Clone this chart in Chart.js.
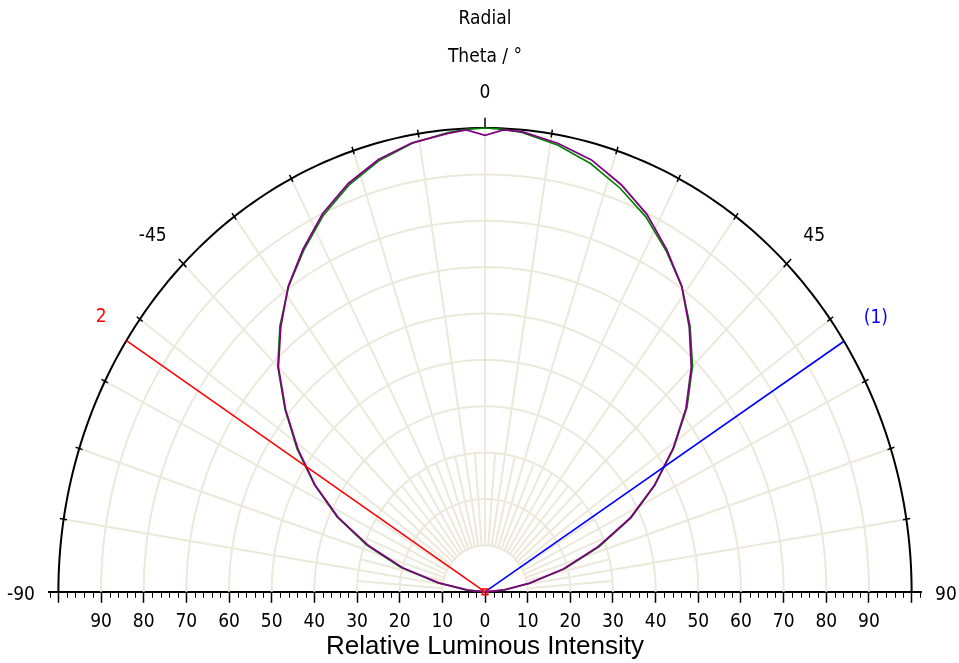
<!DOCTYPE html>
<html>
<head>
<meta charset="utf-8">
<script src="https://cdn.jsdelivr.net/npm/chart.js@4.4.0/dist/chart.umd.min.js"></script>
<style>
  html, body { margin: 0; padding: 0; background: #fff; }
  #wrap { width: 959px; height: 663px; }
</style>
</head>
<body>
<div id="wrap"><canvas id="c"></canvas></div>
<script>
// polar intensity curves, angle in degrees (0 = up), intensity in %
const angles = [-90, -85, -80, -75, -70, -65, -60, -55, -50, -45, -40, -35, -30, -25, -20, -15, -10, -5, -2.5,
  0, 2.5, 5, 10, 15, 20, 25, 30, 35, 40, 45, 50, 55, 60, 65, 70, 75, 80, 85, 90];
const greenIntensity = [0, 4.2, 11.3, 20.5, 29.5, 38.3, 46.2, 53.8, 61.2, 68.7, 74.8, 80.3, 85.0, 89.6, 93.3, 96.2, 98.2, 99.4, 99.8,
  100, 99.8, 99.4, 97.8, 95.6, 92.6, 89.2, 84.9, 80.4, 74.8, 68.8, 61.8, 54.0, 46.0, 37.8, 28.5, 19.5, 10.8, 4.6, 0];
const purpleIntensity = [0, 4.0, 11.0, 20.0, 29.0, 38.0, 46.0, 53.5, 61.0, 68.5, 74.5, 80.4, 85.3, 90.0, 93.7, 96.5, 98.3, 99.2, 99.7,
  98.4, 99.7, 99.6, 98.2, 96.4, 93.4, 89.8, 85.2, 80.4, 74.5, 68.4, 61.5, 53.8, 45.8, 37.5, 28.0, 19.0, 10.5, 4.5, 0];

// half-intensity angle markers
const halfAngles = [-57.2, 57.3];
const halfLabels = ['2', '(1)'];
const halfColors = ['#ff0000', '#0000ff'];

// axes
const radialTicks = [-100, -90, -80, -70, -60, -50, -40, -30, -20, -10, 0, 10, 20, 30, 40, 50, 60, 70, 80, 90, 100];
const ringValues = [10, 20, 30, 40, 50, 60, 70, 80, 90];
const thetaTicks = [-90, -81, -72, -63, -54, -45, -36, -27, -18, -9, 0, 9, 18, 27, 36, 45, 54, 63, 72, 81, 90];
const thetaLabels = [-90, -45, 0, 45, 90];

const rad = d => d * Math.PI / 180;
const toXY = (r, deg) => ({ x: r * Math.sin(rad(deg)), y: r * Math.cos(rad(deg)) });

const FONT = "'DejaVu Sans Condensed', 'DejaVu Sans', sans-serif";
Chart.defaults.font.family = FONT;
Chart.defaults.color = '#000';

const polarGrid = {
  id: 'polarGrid',
  beforeDatasetsDraw(chart) {
    const { ctx, scales: { x: xs, y: ys } } = chart;
    const px = (r, deg) => {
      const p = toXY(r, deg);
      return [xs.getPixelForValue(p.x), ys.getPixelForValue(p.y)];
    };
    const arc = (r) => {
      ctx.beginPath();
      for (let a = -90; a <= 90; a += 1) {
        const [X, Y] = px(r, a);
        if (a === -90) ctx.moveTo(X, Y); else ctx.lineTo(X, Y);
      }
      ctx.stroke();
    };
    const seg = (r0, r1, deg) => {
      const [x0, y0] = px(r0, deg), [x1, y1] = px(r1, deg);
      ctx.beginPath(); ctx.moveTo(x0, y0); ctx.lineTo(x1, y1); ctx.stroke();
    };
    ctx.save();
    // rings + spokes
    ctx.strokeStyle = '#ece8da';
    ctx.lineWidth = 2;
    ringValues.forEach(arc);
    thetaTicks.forEach(a => { if (Math.abs(a) < 90) seg(10, 100, a); });
    for (let a = -85.5; a < 90; a += 9) seg(10, 30, a);

    // outer arc + ticks
    ctx.strokeStyle = '#000';
    ctx.lineWidth = 2;
    arc(100);
    ctx.lineWidth = 1.5;
    thetaTicks.forEach(a => {
      if (Math.abs(a) === 90) return;
      if (a === 0) seg(100, 102.2, a);
      else if (Math.abs(a) === 45) seg(99, 101.5, a);
      else seg(99.2, 100.9, a);
    });

    // minor ticks on radial axis
    ctx.lineWidth = 1;
    const y0 = ys.getPixelForValue(0);
    for (let v = -102; v <= 102; v += 2) {
      if (v % 10 === 0) continue;
      const X = Math.round(xs.getPixelForValue(v)) + 0.5;
      ctx.beginPath(); ctx.moveTo(X, y0); ctx.lineTo(X, y0 + 6); ctx.stroke();
    }

    // angle labels
    ctx.font = '19px ' + FONT;
    const label = (txt, deg, color) => {
      const [X, Y] = px(105.5, deg);
      ctx.fillStyle = color;
      ctx.textAlign = deg > 0 ? 'left' : deg < 0 ? 'right' : 'center';
      const side = Math.abs(deg) >= 90;
      ctx.textBaseline = side ? 'middle' : 'bottom';
      ctx.fillText(txt, X, side ? Y + 3 : Y);
    };
    thetaLabels.forEach(a => label(String(a), a, '#000'));
    halfAngles.forEach((a, i) => label(halfLabels[i], a, halfColors[i]));

    // headings
    ctx.fillStyle = '#000';
    ctx.textAlign = 'center';
    ctx.textBaseline = 'middle';
    const cx = xs.getPixelForValue(0);
    ctx.fillText('Radial', cx, 19);
    ctx.fillText('Theta / \u00b0', cx, 57);
    ctx.restore();
  }
};

const curve = (vals) => angles.map((a, i) => toXY(vals[i], a));

new Chart(document.getElementById('c'), {
  type: 'scatter',
  data: {
    datasets: [
      { data: curve(greenIntensity), order: 3, showLine: true, borderColor: '#008000', borderWidth: 1.6, pointRadius: 0, tension: 0, clip: false },
      { data: curve(purpleIntensity), order: 2, showLine: true, borderColor: '#800080', borderWidth: 1.8, pointRadius: 0, tension: 0, clip: false },
      { data: [{ x: 0, y: 0 }, toXY(100, halfAngles[0])], order: 1, showLine: true, borderColor: halfColors[0], borderWidth: 1.6, pointRadius: 0, clip: false },
      { data: [{ x: 0, y: 0 }, toXY(100, halfAngles[1])], order: 1, showLine: true, borderColor: halfColors[1], borderWidth: 1.6, pointRadius: 0, clip: false },
      { data: [{ x: 0, y: 0 }], order: 0, pointStyle: 'rect', pointRadius: 4, borderColor: '#ff0000', borderWidth: 1.5, backgroundColor: 'rgba(255,0,0,0.15)', clip: false }
    ]
  },
  options: {
    responsive: true,
    maintainAspectRatio: false,
    animation: false,
    layout: { padding: { left: 49, right: 38, top: 128, bottom: 2 } },
    plugins: { legend: { display: false }, tooltip: { enabled: false } },
    scales: {
      x: {
        type: 'linear', min: -102.2, max: 102.2,
        afterBuildTicks: axis => { axis.ticks = radialTicks.map(v => ({ value: v })); },
        ticks: {
          autoSkip: false, maxRotation: 0, padding: 8,
          font: { size: 19 },
          callback: v => Math.abs(v) === 100 ? '' : String(Math.abs(v))
        },
        grid: { drawOnChartArea: false, drawTicks: true, tickLength: 11, tickColor: '#000', tickWidth: 1.5 },
        border: { display: true, color: '#000', width: 2 },
        title: {
          display: true, text: 'Relative Luminous Intensity',
          font: { family: "'Liberation Sans', Arial, sans-serif", size: 26, lineHeight: 0.9 },
          padding: { top: -6, bottom: 2 }
        }
      },
      y: { type: 'linear', min: 0, max: 100, display: false }
    }
  },
  plugins: [polarGrid]
});
</script>
</body>
</html>
